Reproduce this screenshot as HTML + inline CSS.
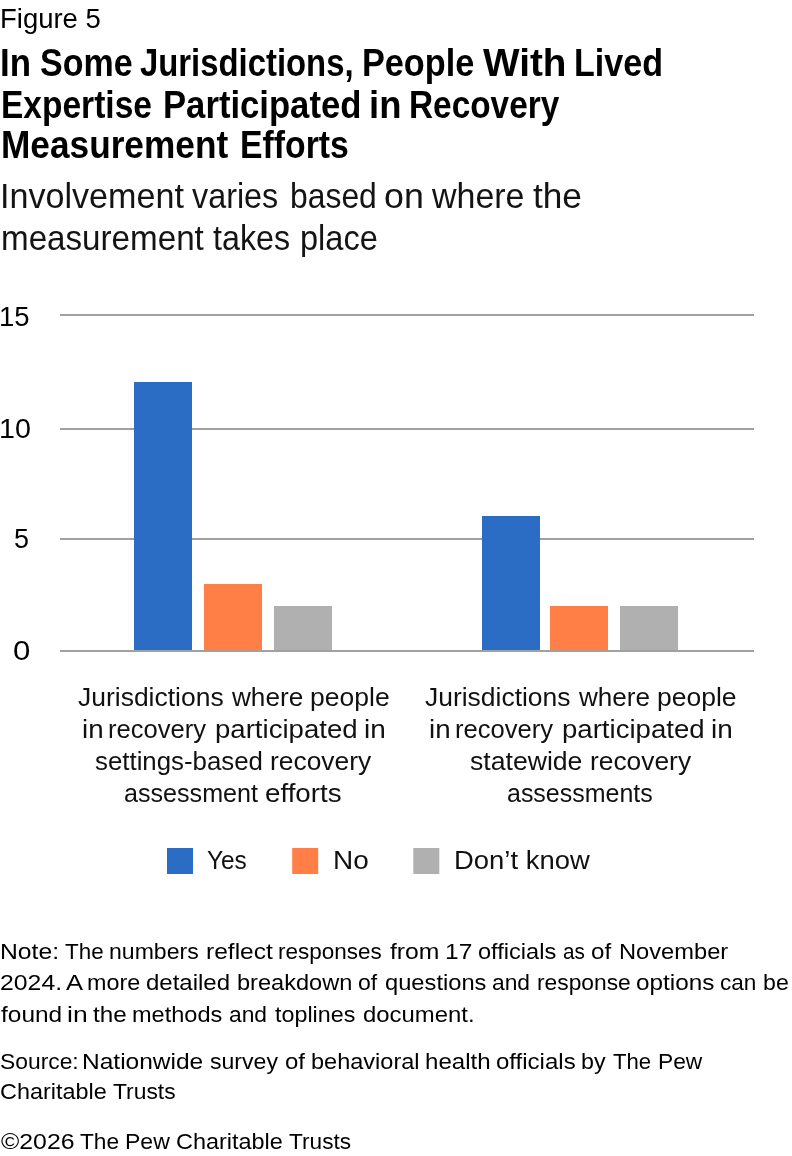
<!DOCTYPE html>
<html lang="en">
<head>
<meta charset="utf-8">
<title>Figure 5 - In Some Jurisdictions, People With Lived Expertise Participated in Recovery Measurement Efforts</title>
<style>
html,body{margin:0;padding:0;background:#fff;}
body{width:792px;height:1156px;position:relative;overflow:hidden;font-family:"Liberation Sans", Arial, sans-serif;}
header,main,footer,h1,p,figure,figcaption,ul,li{display:block;position:static;margin:0;padding:0;font:inherit;list-style:none;}
/* every text line is placed on its measured baseline; words are width-fitted to the reference */
.ln{position:absolute;left:0;width:792px;margin:0;padding:0;line-height:1;white-space:nowrap;}
.ln span{position:absolute;top:0;white-space:nowrap;transform-origin:0 0;}
.fig,.tick,.note{font-weight:400;color:#000;}
.fig{font-size:27.2px;height:27.2px;}
.title{font-size:38.5px;height:38.5px;font-weight:700;color:#000;}
.sub{font-size:35px;height:35px;font-weight:400;color:#141414;}
.tick{font-size:27.3px;height:27.3px;}
.cat{font-size:26.7px;height:26.7px;font-weight:400;color:#111;}
.key{font-size:26.5px;height:26.5px;font-weight:400;color:#111;}
.note{font-size:22.8px;height:22.8px;}
svg.plot{position:absolute;left:0;top:300px;width:792px;height:590px;display:block;}
</style>
</head>
<body>
<header>
<p class="ln fig" style="top:4.98px"><span id="fig_0" style="left:-0.05px;transform:scaleX(1.0105)">Figure 5</span></p>
<h1>
<span class="ln title" style="top:44.41px"><span id="t1_0" style="left:0.34px;transform:scaleX(0.9053)">In</span> <span id="t1_1" style="left:39.86px;transform:scaleX(0.8830)">Some</span> <span id="t1_2" style="left:139.58px;transform:scaleX(0.8532)">Jurisdictions,</span> <span id="t1_3" style="left:361.54px;transform:scaleX(0.8892)">People</span> <span id="t1_4" style="left:482.70px;transform:scaleX(1.0055)">With</span> <span id="t1_5" style="left:573.78px;transform:scaleX(0.8849)">Lived</span></span>
<span class="ln title" style="top:86.41px"><span id="t2_0" style="left:1.01px;transform:scaleX(0.8707)">Expertise</span> <span id="t2_1" style="left:162.96px;transform:scaleX(0.9002)">Participated</span> <span id="t2_2" style="left:368.71px;transform:scaleX(0.9467)">in</span> <span id="t2_3" style="left:409.38px;transform:scaleX(0.8666)">Recovery</span></span>
<span class="ln title" style="top:126.41px"><span id="t3_0" style="left:0.80px;transform:scaleX(0.9152)">Measurement</span> <span id="t3_1" style="left:239.81px;transform:scaleX(0.8772)">Efforts</span></span>
</h1>
<p>
<span class="ln sub" style="top:178.37px"><span id="s1_0" style="left:0.47px;transform:scaleX(0.9747)">Involvement</span> <span id="s1_1" style="left:192.30px;transform:scaleX(0.9240)">varies</span> <span id="s1_2" style="left:289.78px;transform:scaleX(0.9106)">based</span> <span id="s1_3" style="left:383.71px;transform:scaleX(1.0221)">on</span> <span id="s1_4" style="left:431.53px;transform:scaleX(0.9705)">where</span> <span id="s1_5" style="left:533.07px;transform:scaleX(1.0055)">the</span></span>
<span class="ln sub" style="top:220.37px"><span id="s2_0" style="left:0.78px;transform:scaleX(0.9478)">measurement</span> <span id="s2_1" style="left:213.16px;transform:scaleX(0.9217)">takes</span> <span id="s2_2" style="left:299.60px;transform:scaleX(0.9298)">place</span></span>
</p>
</header>
<main>
<figure>
<svg class="plot" viewBox="0 300 792 590" role="img" aria-label="Grouped bar chart">
<g fill="#a0a0a0">
<rect x="60" y="314" width="694" height="2"/>
<rect x="60" y="428" width="694" height="2"/>
<rect x="60" y="538" width="694" height="2"/>
<rect x="60" y="650" width="694" height="2"/>
</g>
<g>
<rect x="134" y="382" width="58" height="268" fill="#2b6cc4"/>
<rect x="204" y="584" width="58" height="66" fill="#ff7f47"/>
<rect x="274" y="606" width="58" height="44" fill="#b0b0b0"/>
<rect x="482" y="516" width="58" height="134" fill="#2b6cc4"/>
<rect x="550" y="606" width="58" height="44" fill="#ff7f47"/>
<rect x="620" y="606" width="58" height="44" fill="#b0b0b0"/>
</g>
<g>
<rect x="167" y="848" width="26" height="26" fill="#2b6cc4"/>
<rect x="292.2" y="848" width="26" height="26" fill="#ff7f47"/>
<rect x="413.3" y="848" width="26" height="26" fill="#b0b0b0"/>
</g>
</svg>
<div class="yaxis">
<div class="ln tick" style="top:302.89px"><span id="y15_0" style="left:-1.12px;transform:scaleX(1.0064)">15</span></div>
<div class="ln tick" style="top:414.89px"><span id="y10_0" style="left:-0.64px;transform:scaleX(1.0499)">10</span></div>
<div class="ln tick" style="top:524.89px"><span id="y5_0" style="left:14.36px;transform:scaleX(0.9878)">5</span></div>
<div class="ln tick" style="top:636.89px"><span id="y0_0" style="left:13.21px;transform:scaleX(1.1418)">0</span></div>
</div>
<div class="xaxis">
<div class="group">
<div class="ln cat" style="top:684.40px"><span id="a1_0" style="left:77.55px;transform:scaleX(0.9918)">Jurisdictions</span> <span id="a1_1" style="left:231.50px;transform:scaleX(0.9792)">where</span> <span id="a1_2" style="left:309.88px;transform:scaleX(0.9936)">people</span></div>
<div class="ln cat" style="top:716.40px"><span id="a2_0" style="left:81.51px;transform:scaleX(1.0390)">in</span> <span id="a2_1" style="left:108.41px;transform:scaleX(0.9582)">recovery</span> <span id="a2_2" style="left:214.95px;transform:scaleX(1.0333)">participated</span> <span id="a2_3" style="left:364.22px;transform:scaleX(1.0468)">in</span></div>
<div class="ln cat" style="top:748.40px"><span id="a3_0" style="left:94.87px;transform:scaleX(0.9677)">settings-based</span> <span id="a3_1" style="left:270.34px;transform:scaleX(0.9880)">recovery</span></div>
<div class="ln cat" style="top:780.40px"><span id="a4_0" style="left:123.98px;transform:scaleX(0.9411)">assessment</span> <span id="a4_1" style="left:265.23px;transform:scaleX(1.0399)">efforts</span></div>
</div>
<div class="group">
<div class="ln cat" style="top:684.40px"><span id="b1_0" style="left:424.55px;transform:scaleX(0.9910)">Jurisdictions</span> <span id="b1_1" style="left:578.73px;transform:scaleX(0.9766)">where</span> <span id="b1_2" style="left:657.27px;transform:scaleX(0.9927)">people</span></div>
<div class="ln cat" style="top:716.40px"><span id="b2_0" style="left:428.51px;transform:scaleX(1.0390)">in</span> <span id="b2_1" style="left:455.41px;transform:scaleX(0.9582)">recovery</span> <span id="b2_2" style="left:561.95px;transform:scaleX(1.0333)">participated</span> <span id="b2_3" style="left:711.22px;transform:scaleX(1.0468)">in</span></div>
<div class="ln cat" style="top:748.40px"><span id="b3_0" style="left:469.92px;transform:scaleX(0.9970)">statewide</span> <span id="b3_1" style="left:589.56px;transform:scaleX(0.9876)">recovery</span></div>
<div class="ln cat" style="top:780.40px"><span id="b4_0" style="left:506.98px;transform:scaleX(0.9357)">assessments</span></div>
</div>
</div>
<ul class="legend">
<li><span class="ln key" style="top:846.57px"><span id="l1_0" style="left:207.48px;transform:scaleX(0.9212)">Yes</span></span></li>
<li><span class="ln key" style="top:846.57px"><span id="l2_0" style="left:333.29px;transform:scaleX(1.0551)">No</span></span></li>
<li><span class="ln key" style="top:846.57px"><span id="l3_0" style="left:453.97px;transform:scaleX(1.0353)">Don’t know</span></span></li>
</ul>
</figure>
</main>
<footer>
<p>
<span class="ln note" style="top:939.70px"><span id="n1_0" style="left:-0.41px;transform:scaleX(1.0832)">Note:</span> <span id="n1_1" style="left:65.14px;transform:scaleX(0.9836)">The</span> <span id="n1_2" style="left:109.45px;transform:scaleX(1.0112)">numbers</span> <span id="n1_3" style="left:205.59px;transform:scaleX(1.0766)">reflect</span> <span id="n1_4" style="left:278.44px;transform:scaleX(0.9860)">responses</span> <span id="n1_5" style="left:389.92px;transform:scaleX(1.0848)">from</span> <span id="n1_6" style="left:444.69px;transform:scaleX(1.0749)">17</span> <span id="n1_7" style="left:478.32px;transform:scaleX(1.0340)">officials</span> <span id="n1_8" style="left:563.18px;transform:scaleX(0.9089)">as</span> <span id="n1_9" style="left:591.45px;transform:scaleX(1.0596)">of</span> <span id="n1_10" style="left:618.60px;transform:scaleX(1.0383)">November</span></span>
<span class="ln note" style="top:970.70px"><span id="n2_0" style="left:-0.38px;transform:scaleX(1.0889)">2024.</span> <span id="n2_1" style="left:66.03px;transform:scaleX(1.1194)">A</span> <span id="n2_2" style="left:86.61px;transform:scaleX(1.0232)">more</span> <span id="n2_3" style="left:146.44px;transform:scaleX(1.0523)">detailed</span> <span id="n2_4" style="left:236.66px;transform:scaleX(1.0343)">breakdown</span> <span id="n2_5" style="left:358.11px;transform:scaleX(1.0117)">of</span> <span id="n2_6" style="left:384.64px;transform:scaleX(1.0395)">questions</span> <span id="n2_7" style="left:492.11px;transform:scaleX(0.9998)">and</span> <span id="n2_8" style="left:536.52px;transform:scaleX(0.9998)">response</span> <span id="n2_9" style="left:636.43px;transform:scaleX(1.0667)">options</span> <span id="n2_10" style="left:720.41px;transform:scaleX(0.9898)">can</span> <span id="n2_11" style="left:762.93px;transform:scaleX(1.0161)">be</span></span>
<span class="ln note" style="top:1002.70px"><span id="n3_0" style="left:0.66px;transform:scaleX(1.0726)">found</span> <span id="n3_1" style="left:66.92px;transform:scaleX(1.1631)">in</span> <span id="n3_2" style="left:93.11px;transform:scaleX(1.0626)">the</span> <span id="n3_3" style="left:132.23px;transform:scaleX(1.0331)">methods</span> <span id="n3_4" style="left:229.46px;transform:scaleX(1.0004)">and</span> <span id="n3_5" style="left:274.71px;transform:scaleX(1.0216)">toplines</span> <span id="n3_6" style="left:363.26px;transform:scaleX(1.0478)">document.</span></span>
</p>
<p>
<span class="ln note" style="top:1049.70px"><span id="n4_0" style="left:-0.06px;transform:scaleX(1.0019)">Source:</span> <span id="n4_1" style="left:82.26px;transform:scaleX(1.0748)">Nationwide</span> <span id="n4_2" style="left:210.48px;transform:scaleX(1.0121)">survey</span> <span id="n4_3" style="left:284.96px;transform:scaleX(1.0541)">of</span> <span id="n4_4" style="left:310.55px;transform:scaleX(1.0319)">behavioral</span> <span id="n4_5" style="left:425.45px;transform:scaleX(1.0560)">health</span> <span id="n4_6" style="left:496.41px;transform:scaleX(1.0537)">officials</span> <span id="n4_7" style="left:580.90px;transform:scaleX(1.0208)">by</span> <span id="n4_8" style="left:613.35px;transform:scaleX(0.9717)">The</span> <span id="n4_9" style="left:657.55px;transform:scaleX(0.9994)">Pew</span></span>
<span class="ln note" style="top:1079.70px"><span id="n5_0" style="left:-0.42px;transform:scaleX(1.0268)">Charitable</span> <span id="n5_1" style="left:112.97px;transform:scaleX(1.0016)">Trusts</span></span>
</p>
<p>
<span class="ln note" style="top:1129.70px"><span id="n6_0" style="left:1.32px;transform:scaleX(1.0887)">©2026</span> <span id="n6_1" style="left:80.26px;transform:scaleX(0.9946)">The</span> <span id="n6_2" style="left:125.29px;transform:scaleX(1.0105)">Pew</span> <span id="n6_3" style="left:176.01px;transform:scaleX(1.0284)">Charitable</span> <span id="n6_4" style="left:288.92px;transform:scaleX(0.9935)">Trusts</span></span>
</p>
</footer>
</body>
</html>
